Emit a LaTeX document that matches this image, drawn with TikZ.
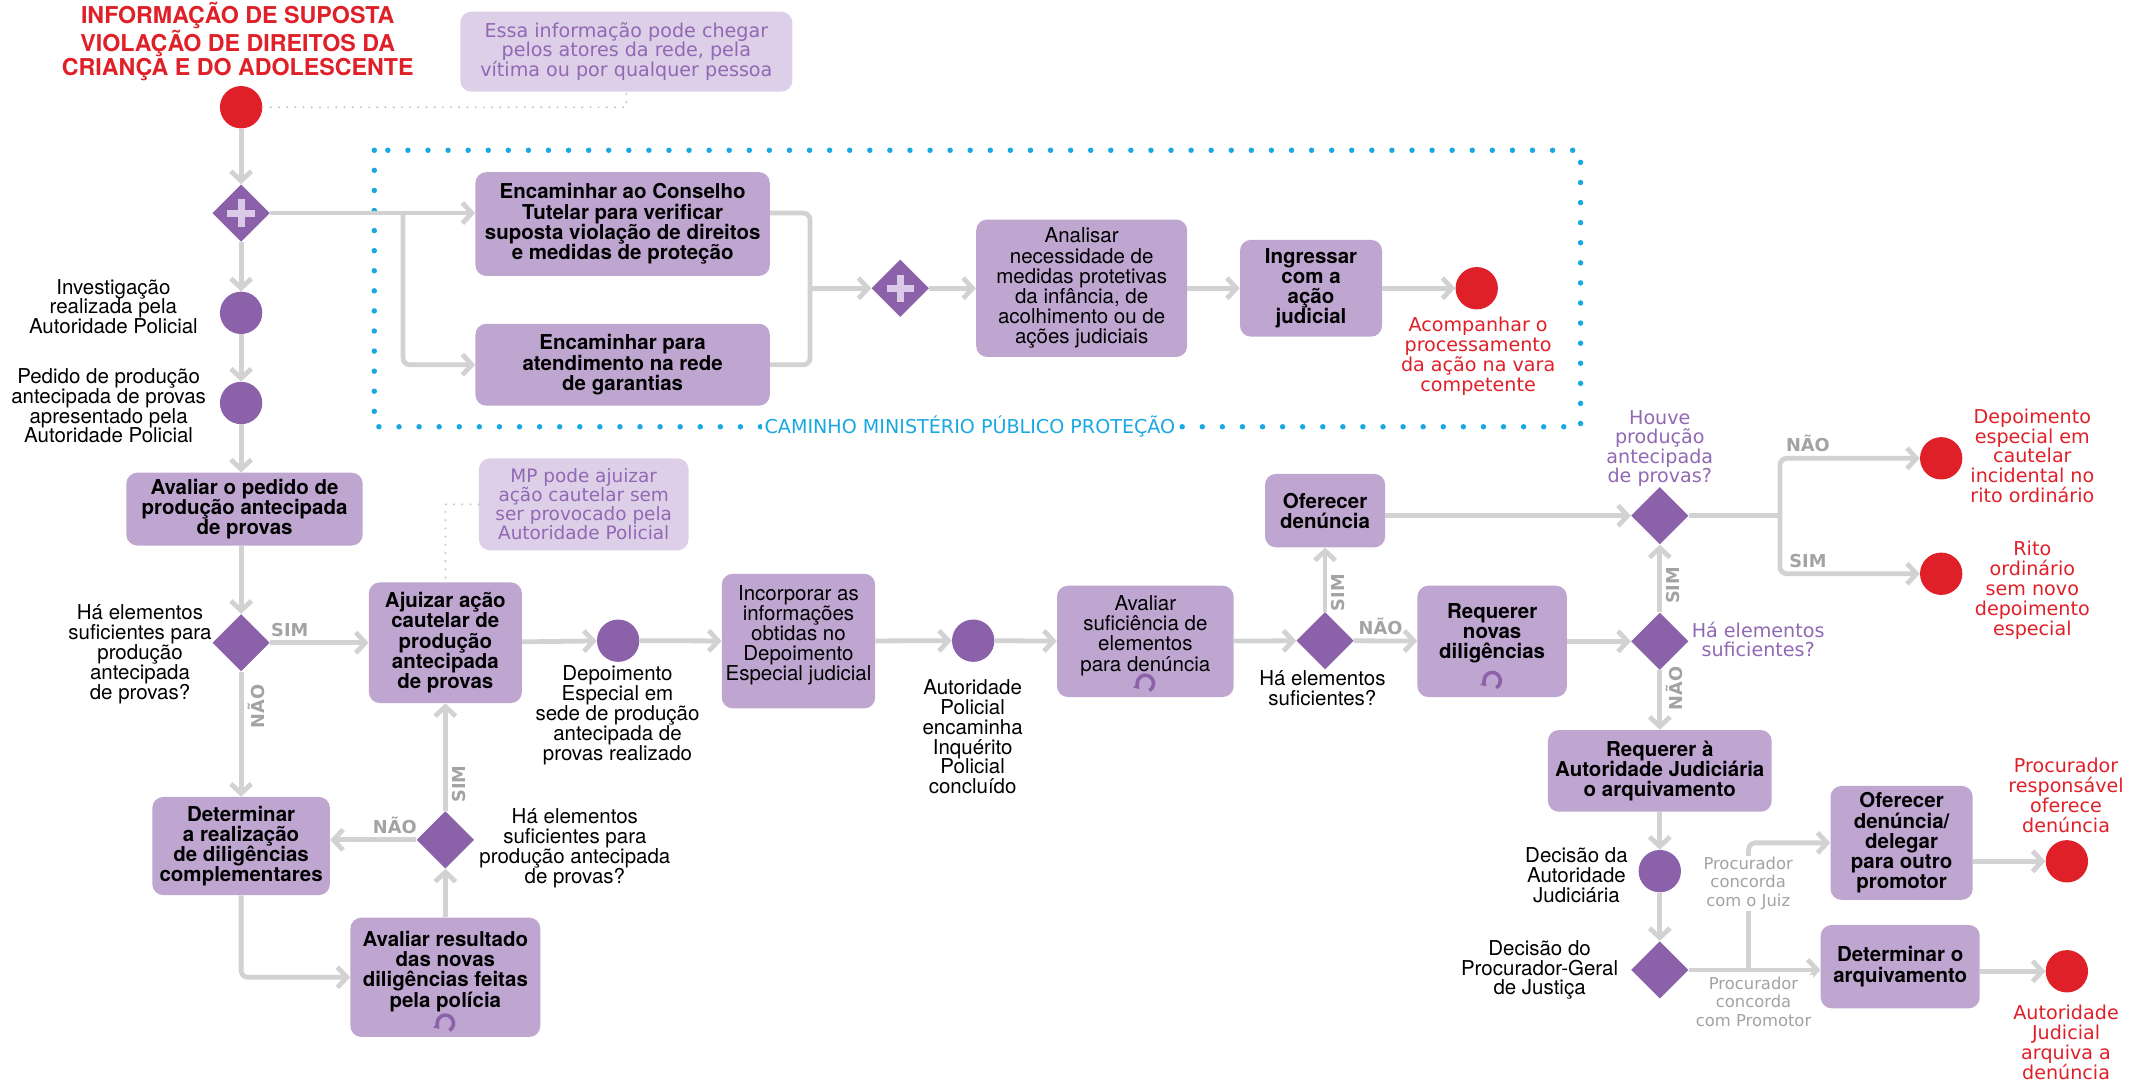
\documentclass[tikz,border=0pt]{standalone}
\usepackage{fontspec}
\setmainfont{TeX Gyre Heros}
\newfontfamily\widefont{DejaVu Sans}
\usetikzlibrary{shapes.geometric, arrows.meta}
\definecolor{boxc}{HTML}{BEA6D1}
\definecolor{notec}{HTML}{DDCFE8}
\definecolor{darkp}{HTML}{8B62A9}
\definecolor{textp}{HTML}{9168B3}
\definecolor{redc}{HTML}{E02028}
\definecolor{linec}{HTML}{D2D2D2}
\definecolor{labelc}{HTML}{A3A3A3}
\definecolor{bluec}{HTML}{19A8E2}
\definecolor{plusc}{HTML}{DACAE7}

\begin{document}
\begin{tikzpicture}[x=1pt, y=-1pt,
  box/.style={rectangle, rounded corners=8pt, fill=boxc, align=center, inner sep=2pt, font=\bfseries\fontsize{15}{14.8}\selectfont},
  rbox/.style={box, font=\fontsize{15}{14.8}\selectfont},
  note/.style={rectangle, rounded corners=8pt, fill=notec, text=textp, align=center, inner sep=2pt, font=\widefont\fontsize{14}{14}\selectfont},
  pdot/.style={circle, fill=darkp, minimum size=31pt, inner sep=0pt},
  rdot/.style={pdot, fill=redc},
  gate/.style={diamond, fill=darkp, minimum size=42pt, inner sep=0pt},
  lbl/.style={align=center, inner sep=1pt, font=\fontsize{15}{14.6}\selectfont},
  redlbl/.style={align=center, inner sep=1pt, text=redc, font=\widefont\fontsize{14}{14.6}\selectfont},
  plbl/.style={align=center, inner sep=1pt, text=textp, font=\widefont\fontsize{14}{14}\selectfont},
  glbl/.style={align=center, inner sep=1pt, fill=white, text=labelc, font=\widefont\fontsize{12}{13.5}\selectfont},
  yn/.style={text=labelc, inner sep=3pt, font=\widefont\bfseries\fontsize{13}{13}\selectfont},
  flow/.style={draw=linec, line width=3.5pt, rounded corners=5pt},
  arr/.style={flow, -{Straight Barb[length=7pt, width=15pt]}},
  hint/.style={draw=gray!45, line width=1.6pt, line cap=round, dash pattern=on 0pt off 6pt},
  bluebox/.style={draw=bluec, line width=4pt, line cap=round, dash pattern=on 0pt off 14.7pt},
  plus/.style={draw=plusc, line width=5pt},
  loopic/.style={draw=darkp, line width=2.6pt, -{Latex[length=4pt, width=5.5pt]}}]
\path[use as bounding box, fill=white] (0,0) rectangle (1568,791.3);

\draw[bluebox] (274,110) rectangle (1157,312.4);
\node[fill=white, inner sep=2pt, text=bluec, font=\widefont\fontsize{14}{14}\selectfont] (caminho) at (710,312.4) {CAMINHO MINISTÉRIO PÚBLICO PROTEÇÃO};

\node[align=center, text=redc, font=\bfseries\fontsize{17}{17.1}\selectfont] (title) at (174,30.5) {INFORMAÇÃO DE SUPOSTA\\VIOLAÇÃO DE DIREITOS DA\\CRIANÇA E DO ADOLESCENTE};
\node[note, minimum width=243pt, minimum height=58.5pt] (note1) at (458.5,37.8) {Essa informação pode chegar\\pelos atores da rede, pela\\vítima ou por qualquer pessoa};
\node[note, minimum width=153.4pt, minimum height=67.3pt, font=\widefont\fontsize{13.5}{14}\selectfont] (note2) at (427.3,369.2) {MP pode ajuizar\\ação cautelar sem\\ser provocado pela\\Autoridade Policial};

\node[rdot] (start) at (176.5,78.5) {};
\node[gate] (g1) at (176.5,156) {};
\node[pdot] (inv) at (176.5,229) {};
\node[pdot] (ped) at (176.5,295) {};
\node[box, minimum width=173pt, minimum height=53.3pt] (aval) at (179,372.7) {Avaliar o pedido de\\produção antecipada\\de provas};
\node[gate] (d1) at (176.5,470.5) {};
\node[box, minimum width=130pt, minimum height=71.8pt] (deter) at (176.5,619.3) {Determinar\\a realização\\de diligências\\complementares};
\node[box, minimum width=112pt, minimum height=88.3pt] (ajuiz) at (326,470.5) {Ajuizar ação\\cautelar de\\produção\\antecipada\\de provas};
\node[gate] (d2) at (326,614.8) {};
\node[box, minimum width=139pt, minimum height=87.3pt] (resul) at (326,715.4) {Avaliar resultado\\das novas\\diligências feitas\\pela polícia\\[-3pt]\mbox{}};

\node[box, minimum width=215.5pt, minimum height=76pt] (cons) at (455.8,164) {Encaminhar ao Conselho\\Tutelar para verificar\\suposta violação de direitos\\e medidas de proteção};
\node[box, minimum width=215.5pt, minimum height=60pt] (rede) at (455.8,267) {Encaminhar para\\atendimento na rede\\de garantias};
\node[gate] (g2) at (659,211) {};
\node[rbox, minimum width=154.4pt, minimum height=100.6pt] (anal) at (791.8,211) {Analisar\\necessidade de\\medidas protetivas\\da infância, de\\acolhimento ou de\\ações judiciais};
\node[box, minimum width=104pt, minimum height=70.8pt] (ingr) at (959.7,211) {Ingressar\\com a\\ação\\judicial};
\node[rdot] (fim1) at (1081,211) {};

\node[pdot] (dep) at (452.5,469) {};
\node[rbox, minimum width=112.2pt, minimum height=98.6pt] (incorp) at (584.5,469.3) {Incorporar as\\informações\\obtidas no\\Depoimento\\Especial judicial\\[-3pt]\mbox{}};
\node[pdot] (aut) at (712.4,469) {};
\node[rbox, minimum width=129.3pt, minimum height=81.5pt] (suf) at (838.4,469.5) {Avaliar\\suficiência de\\elementos\\para denúncia\\[-3pt]\mbox{}};
\node[gate] (d3) at (970,469) {};
\node[box, minimum width=88pt, minimum height=53.7pt] (ofer) at (970,373.8) {Oferecer\\denúncia};
\node[box, minimum width=109.4pt, minimum height=81.5pt] (reqn) at (1092.3,469.5) {Requerer\\novas\\diligências\\[0pt]\mbox{}};
\node[gate] (d5) at (1215,469.5) {};
\node[gate] (d4) at (1215,377.5) {};
\node[rdot] (fim2) at (1421,335.5) {};
\node[rdot] (fim3) at (1421,420) {};
\node[box, minimum width=163.8pt, minimum height=59.8pt] (reqaj) at (1215,564.3) {Requerer à\\Autoridade Judiciária\\o arquivamento};
\node[pdot] (dec) at (1215,637.7) {};
\node[gate] (d6) at (1215,710) {};
\node[box, minimum width=104pt, minimum height=83.4pt] (deleg) at (1392,617) {Oferecer\\denúncia/\\delegar\\para outro\\promotor};
\node[box, minimum width=116.4pt, minimum height=61pt] (arqv) at (1391,707.6) {Determinar o\\arquivamento};
\node[rdot] (fim4) at (1513,630.5) {};
\node[rdot] (fim5) at (1513,711) {};

\node[lbl] (linv) at (83,224.5) {Investigação\\realizada pela\\Autoridade Policial};
\node[lbl] (lped) at (79.5,297) {Pedido de produção\\antecipada de provas\\apresentado pela\\Autoridade Policial};
\node[lbl] (ld1) at (102.5,479) {Há elementos\\suficientes para\\produção\\antecipada\\de provas?};
\node[lbl] (ldep) at (452,523.5) {Depoimento\\Especial em\\sede de produção\\antecipada de\\provas realizado};
\node[lbl] (ld2) at (420.8,621) {Há elementos\\suficientes para\\produção antecipada\\de provas?};
\node[lbl] (laut) at (712,539.3) {Autoridade\\Policial\\encaminha\\Inquérito\\Policial\\concluído};
\node[lbl] (ld3) at (968,504) {Há elementos\\suficientes?};
\node[lbl] (ldec) at (1154,640.5) {Decisão da\\Autoridade\\Judiciária};
\node[lbl] (ld6) at (1127,710) {Decisão do\\Procurador-Geral\\de Justiça};
\node[redlbl] (lfim1) at (1082,261) {Acompanhar o\\processamento\\da ação na vara\\competente};
\node[redlbl] (lfim2) at (1487.7,333.7) {Depoimento\\especial em\\cautelar\\incidental no\\rito ordinário};
\node[redlbl] (lfim3) at (1487.7,431.8) {Rito\\ordinário\\sem novo\\depoimento\\especial};
\node[redlbl] (lfim4) at (1512.4,582) {Procurador\\responsável\\oferece\\denúncia};
\node[redlbl] (lfim5) at (1512.4,763) {Autoridade\\Judicial\\arquiva a\\denúncia};
\node[plbl] (ld4) at (1215,328.3) {Houve\\produção\\antecipada\\de provas?};
\node[plbl] (ld5) at (1287,467.8) {Há elementos\\suficientes?};

\draw[plus] ([xshift=-10pt]g1.center) -- ([xshift=10pt]g1.center) ([yshift=-10pt]g1.center) -- ([yshift=10pt]g1.center);
\draw[plus] ([xshift=-10pt]g2.center) -- ([xshift=10pt]g2.center) ([yshift=-10pt]g2.center) -- ([yshift=10pt]g2.center);
\draw[loopic] ([xshift=3pt, yshift=5pt]resul.south) arc[start angle=60, end angle=-225, radius=6];
\draw[loopic] ([xshift=3pt, yshift=5pt]suf.south) arc[start angle=60, end angle=-225, radius=6];
\draw[loopic] ([xshift=3pt, yshift=7pt]reqn.south) arc[start angle=60, end angle=-225, radius=6];

\draw[hint] (start) -- (start -| note1) -- (note1.south);
\draw[hint] (note2.west) -| (ajuiz.north);

\draw[arr] (start) -- (g1);
\draw[arr] (g1) -- (inv);
\draw[arr] (inv) -- (ped);
\draw[arr] (ped) -- (ped |- aval.north);
\draw[arr] (g1) -- (g1 -| cons.west);
\coordinate (jg1) at (295,156);
\draw[arr] (jg1) |- (rede.west);
\coordinate (jm) at (593,211);
\draw[flow] (cons.east |- g1) -| (jm);
\draw[flow] (rede.east) -| (jm);
\draw[arr] (jm) -- (g2);
\draw[arr] (g2) -- (anal);
\draw[arr] (anal) -- (ingr);
\draw[arr] (ingr) -- (fim1);

\draw[arr] (aval.south -| d1) -- (d1);
\draw[arr] (d1) -- (ajuiz) node[yn, pos=.2, above]{SIM};
\draw[arr] (d1) -- (deter) node[yn, pos=.28, rotate=90, anchor=north]{NÃO};
\draw[arr] (deter) |- (resul.west);
\draw[arr] (resul) -- (d2);
\draw[arr] (d2) -- (d2 -| deter.east) node[yn, pos=.25, above]{NÃO};
\draw[arr] (d2) -- (ajuiz) node[yn, pos=.25, rotate=90, anchor=north]{SIM};

\draw[arr] (ajuiz) -- (dep);
\draw[arr] (dep) -- (incorp);
\draw[arr] (incorp) -- (aut);
\draw[arr] (aut) -- (suf);
\draw[arr] (suf) -- (d3);
\draw[arr] (d3) -- (ofer) node[yn, pos=.3, rotate=90, anchor=north]{SIM};
\draw[arr] (d3) -- (reqn) node[yn, pos=.42, above]{NÃO};
\draw[arr] (reqn) -- (d5);
\draw[arr] (d5) -- (d4) node[yn, pos=.4, rotate=90, anchor=north]{SIM};
\draw[arr] (ofer.east |- d4) -- (d4);
\draw[arr] (d5) -- (reqaj) node[yn, pos=.3, rotate=90, anchor=north]{NÃO};
\coordinate (jd4) at (1303,377.5);
\draw[flow] (d4) -- (jd4);
\draw[arr] (jd4) |- (fim2) node[yn, pos=.6, above]{NÃO};
\draw[arr] (jd4) |- (fim3) node[yn, pos=.6, above]{SIM};

\draw[arr] (reqaj) -- (dec);
\draw[arr] (dec) -- (d6);
\draw[arr] (d6) -- (d6 -| arqv.west);
\coordinate (jd6) at (1280,710);
\draw[arr] (jd6) |- (deleg);
\draw[arr] (deleg.east |- fim4) -- (fim4);
\draw[arr] (arqv.east |- fim5) -- (fim5);
\node[glbl] (gl1) at (1279.7,646.6) {Procurador\\concorda\\com o Juiz};
\node[glbl] (gl2) at (1283.6,733.2) {Procurador\\concorda\\com Promotor};
\end{tikzpicture}
\end{document}
